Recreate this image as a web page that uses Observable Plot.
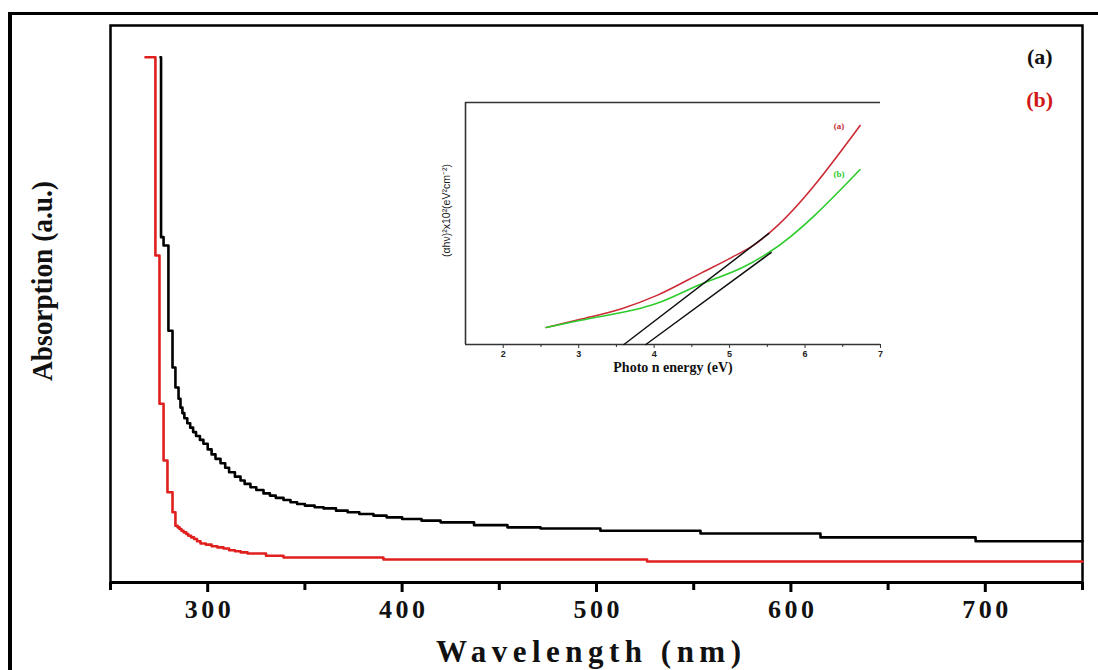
<!DOCTYPE html>
<html>
<head>
<meta charset="utf-8">
<script src="https://cdn.jsdelivr.net/npm/d3@7"></script>
<script src="https://cdn.jsdelivr.net/npm/@observablehq/plot@0.6"></script>
<style>
  html, body { margin: 0; padding: 0; background: #fff; overflow: hidden; }
  #wrap { position: relative; width: 1098px; height: 670px; overflow: hidden; background: #fff; }
  #outer { position: absolute; left: 8px; top: 12px; width: 1200px; height: 800px; border-left: 4px solid #000; border-top: 3px solid #000; box-sizing: border-box; pointer-events: none; }
  #main, #inset { position: absolute; }
  #main { left: 0; top: 0; }
  #inset { left: 400px; top: 90px; }
  svg { overflow: visible; }
</style>
</head>
<body>
<div id="wrap">
  <div id="main"></div>
  <div id="inset"></div>
  <div id="outer"></div>
</div>
<script>
// ---------- Main chart data: UV-Vis absorption ----------
const aWavelength = [275.7, 276.0, 277.3, 279.8, 281.9, 283.4, 285.0, 286.0, 287.0, 288.0, 289.5, 291.0, 292.5, 294.0, 296.0, 297.8, 300.0, 302.0, 304.0, 306.6, 309.0, 311.0, 314.0, 316.9, 319.0, 322.0, 325.0, 328.7, 332.0, 335.0, 339.0, 342.6, 346.0, 350.0, 355.0, 359.6, 366.0, 372.0, 378.0, 385.3, 392.0, 400.0, 410.0, 419.8, 437.0, 454.2, 471.2, 502.0, 553.5, 615.2, 695.0, 750.0];
const aAbsorption = [94.3, 62.0, 60.5, 45.2, 38.6, 35.0, 33.0, 31.4, 30.4, 29.5, 28.6, 27.8, 27.0, 26.3, 25.6, 24.9, 23.9, 23.0, 22.2, 21.4, 20.6, 19.8, 19.0, 18.3, 17.7, 17.1, 16.6, 16.0, 15.6, 15.2, 14.8, 14.4, 14.1, 13.8, 13.5, 13.3, 12.9, 12.6, 12.3, 12.0, 11.7, 11.4, 11.1, 10.8, 10.3, 9.9, 9.7, 9.3, 8.8, 8.1, 7.4, 7.4];
const bWavelength = [268.0, 273.1, 275.2, 277.3, 279.3, 281.9, 283.4, 284.5, 285.5, 286.5, 287.6, 289.0, 290.0, 291.5, 293.0, 294.5, 296.3, 299.0, 302.0, 305.0, 308.1, 311.0, 314.0, 317.0, 320.5, 330.0, 339.0, 390.4, 526.0, 750.0];
const bAbsorption = [94.3, 58.7, 32.1, 21.9, 16.2, 12.6, 10.2, 9.9, 9.6, 9.3, 9.0, 8.7, 8.4, 8.1, 7.8, 7.4, 7.0, 6.8, 6.5, 6.3, 6.1, 5.8, 5.6, 5.4, 5.2, 4.8, 4.5, 4.13, 3.77, 3.77];
const xTicks = [300, 400, 500, 600, 700];
const xMinorTicks = [250, 350, 450, 550, 650, 750];
const seriesLabels = ["(a)", "(b)"];

// ---------- Inset data: Tauc plot ----------
const insetAEnergy = [2.57, 3.01, 3.58, 4.03, 4.64, 5.03, 5.35, 5.52, 6.73];
const insetAValue  = [7.0, 10.3, 14.9, 20.2, 29.8, 36.0, 41.7, 45.9, 90.5];
const insetBEnergy = [2.57, 3.01, 4.03, 4.64, 5.17, 5.52, 6.73];
const insetBValue  = [7.0, 9.9, 16.9, 25.2, 31.8, 38.0, 72.3];
const fitAEnergy = [3.60, 5.52];
const fitAValue  = [0, 45.9];
const fitBEnergy = [3.89, 5.55];
const fitBValue  = [0, 38.0];
const insetTicks = [2, 3, 4, 5, 6, 7];
const insetMinorTicks = [2.5, 3.5, 4.5, 5.5, 6.5];

const zip = (xs, ys) => xs.map((x, i) => ({x, y: ys[i]}));
const serif = "'Liberation Serif', 'Times New Roman', serif";
const sans = "'Liberation Sans', Arial, sans-serif";
const RED = "#e0201e";

const main = Plot.plot({
  width: 1098,
  height: 670,
  marginLeft: 110,
  marginTop: 25,
  marginRight: 16,
  marginBottom: 88,
  x: {domain: [250, 750], axis: null},
  y: {domain: [0, 100], axis: null},
  style: {background: "transparent", overflow: "visible"},
  marks: [
    Plot.frame({stroke: "#000", strokeWidth: 2.5}),
    Plot.ruleY([0], {stroke: "#000", strokeWidth: 3}),
    Plot.axisX({ticks: xMinorTicks, tickSize: 8, strokeWidth: 3, tickFormat: () => "", label: null}),
    Plot.axisX({ticks: xTicks, tickSize: 10, tickPadding: 7, strokeWidth: 3, label: null,
      fontSize: 26, fontWeight: "bold", fontFamily: serif, fill: "#111"}),
    Plot.line(zip(bWavelength, bAbsorption), {x: "x", y: "y", curve: "step-after", stroke: RED, strokeWidth: 2.6}),
    Plot.line(zip(aWavelength, aAbsorption), {x: "x", y: "y", curve: "step-after", stroke: "#000", strokeWidth: 2.6}),
    Plot.text(["Wavelength (nm)"], {frameAnchor: "bottom", dy: 79, dx: -8, fontSize: 31, fontWeight: "bold",
      fontFamily: serif, fill: "#111"}),
    Plot.text(["Absorption (a.u.)"], {frameAnchor: "left", dx: -68, dy: -23, rotate: -90, textAnchor: "middle",
      fontSize: 29, fontWeight: "bold", fontFamily: serif, fill: "#111"}),
    Plot.text([seriesLabels[0]], {x: 728, y: 94.3, fontSize: 22, fontWeight: "bold", fontFamily: serif, fill: "#111"}),
    Plot.text([seriesLabels[1]], {x: 728, y: 86.6, fontSize: 22, fontWeight: "bold", fontFamily: serif, fill: "#d01818"})
  ]
});
document.getElementById("main").appendChild(main);

function fit(svg, content, len, adjust) {
  d3.select(svg).selectAll("text").filter(function () { return this.textContent === content; })
    .attr("textLength", len).attr("lengthAdjust", adjust);
}
xTicks.forEach(t => fit(main, String(t), 46, "spacing"));
fit(main, "Wavelength (nm)", 305, "spacing");
fit(main, "Absorption (a.u.)", 200, "spacingAndGlyphs");

const inset = Plot.plot({
  width: 495,
  height: 290,
  marginLeft: 65,
  marginTop: 12,
  marginRight: 15,
  marginBottom: 36,
  x: {domain: [1.5, 7], axis: null},
  y: {domain: [0, 100], axis: null},
  style: {background: "transparent", overflow: "visible"},
  marks: [
    Plot.ruleX([1.5], {stroke: "#333", strokeWidth: 1.6}),
    Plot.ruleY([100], {stroke: "#333", strokeWidth: 1.6}),
    Plot.ruleY([0], {stroke: "#333", strokeWidth: 1.6}),
    Plot.axisX({ticks: insetMinorTicks, tickSize: 3, stroke: "#333", tickFormat: () => "", label: null}),
    Plot.axisX({ticks: insetTicks, tickSize: 4, tickPadding: 2, stroke: "#333", label: null, tickFormat: d3.format("d"),
      fontSize: 9, fontWeight: "bold", fontFamily: sans, fill: "#222"}),
    Plot.line(zip(insetAEnergy, insetAValue), {x: "x", y: "y", curve: "monotone-x", stroke: "#cc2b36", strokeWidth: 1.6}),
    Plot.line(zip(insetBEnergy, insetBValue), {x: "x", y: "y", curve: "monotone-x", stroke: "#2ccc2c", strokeWidth: 1.6}),
    Plot.line(zip(fitAEnergy, fitAValue), {x: "x", y: "y", stroke: "#111", strokeWidth: 1.5}),
    Plot.line(zip(fitBEnergy, fitBValue), {x: "x", y: "y", stroke: "#111", strokeWidth: 1.5}),
    Plot.text(["Photo n energy (eV)"], {frameAnchor: "bottom", dy: 27, fontSize: 14, fontWeight: "bold", fontFamily: serif, fill: "#111"}),
    Plot.text(["(αhν)²x10²(eV²cm⁻²)"], {frameAnchor: "left", dx: -19, dy: -13, rotate: -90, textAnchor: "middle",
      fontSize: 10.5, fontFamily: sans, fill: "#222"}),
    Plot.text([seriesLabels[0]], {x: 6.45, y: 90.3, fontSize: 9, fontWeight: "bold", fontFamily: serif, fill: "#cc2b36"}),
    Plot.text([seriesLabels[1]], {x: 6.45, y: 70.5, fontSize: 9, fontWeight: "bold", fontFamily: serif, fill: "#2ccc2c"})
  ]
});
document.getElementById("inset").appendChild(inset);
</script>
</body>
</html>
